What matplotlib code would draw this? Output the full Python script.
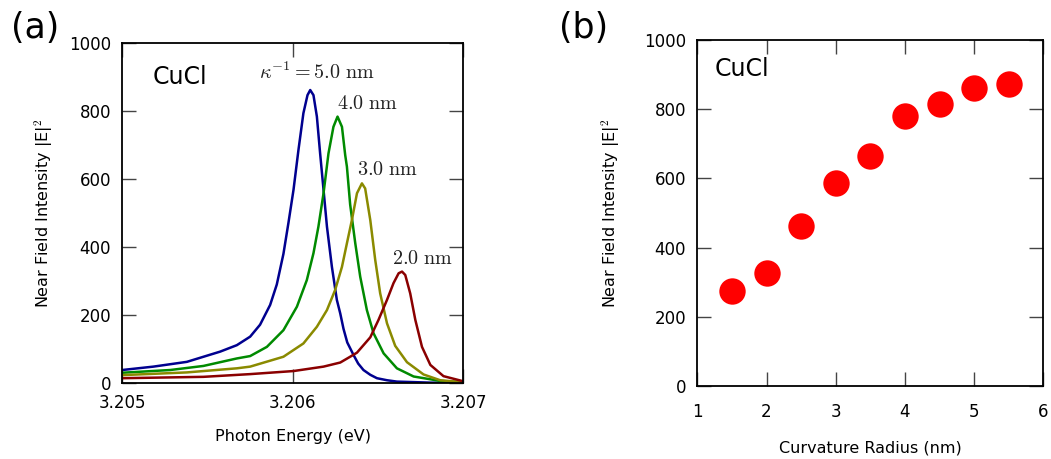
import matplotlib
matplotlib.use("Agg")
import matplotlib.pyplot as plt

plt.rcParams['font.family'] = ['DejaVu Sans']
plt.rcParams['mathtext.fontset'] = 'cm'

# ---- Panel (a): near-field spectra for different curvature radii ----
e_blue = [3.205000, 3.205184, 3.205380, 3.205575, 3.205673, 3.205751, 3.205809,
          3.205868, 3.205907, 3.205946, 3.205975, 3.206005, 3.206034, 3.206063,
          3.206087, 3.206103, 3.206122, 3.206142, 3.206161, 3.206181, 3.206201,
          3.206230, 3.206259, 3.206279, 3.206298, 3.206320, 3.206357, 3.206384,
          3.206415, 3.206455, 3.206494, 3.206553, 3.206611, 3.206807, 3.207000]
i_blue = [39, 49, 63, 93, 112, 137, 172,
          230, 290, 380, 470, 568, 685, 793,
          846, 861, 846, 783, 675, 568, 460,
          342, 245, 205, 160, 120, 83, 58,
          39, 25, 15, 9, 5, 2, 1]

e_green = [3.205000, 3.205282, 3.205477, 3.205673, 3.205751, 3.205849, 3.205946,
           3.206025, 3.206083, 3.206122, 3.206151, 3.206181, 3.206210, 3.206239,
           3.206263, 3.206289, 3.206308, 3.206318, 3.206337, 3.206367, 3.206396,
           3.206435, 3.206474, 3.206533, 3.206611, 3.206709, 3.206865, 3.207000]
i_green = [31, 39, 51, 73, 80, 107, 156,
           225, 303, 382, 460, 558, 675, 753,
           783, 753, 670, 636, 525, 411, 313,
           215, 147, 88, 44, 20, 7, 3]

e_olive = [3.205000, 3.205380, 3.205673, 3.205751, 3.205946, 3.206063, 3.206142,
           3.206201, 3.206249, 3.206289, 3.206318, 3.206347, 3.206377, 3.206406,
           3.206425, 3.206455, 3.206484, 3.206513, 3.206553, 3.206601, 3.206670,
           3.206767, 3.206865, 3.207000]
i_olive = [24, 32, 44, 49, 78, 117, 166,
           215, 274, 342, 411, 479, 558, 587,
           572, 479, 362, 264, 176, 110, 62,
           26, 9, 3]

e_red = [3.205000, 3.205477, 3.205751, 3.206005, 3.206181, 3.206279, 3.206337,
         3.206377, 3.206455, 3.206503, 3.206553, 3.206591, 3.206621, 3.206641,
         3.206660, 3.206689, 3.206719, 3.206758, 3.206807, 3.206884, 3.207000]
i_red = [15, 19, 27, 36, 49, 61, 78,
         90, 135, 186, 245, 294, 323, 328,
         318, 264, 186, 107, 54, 21, 6]

curve_labels = [r'$\kappa^{-1}=5.0\ \mathrm{nm}$', r'$4.0\ \mathrm{nm}$',
                r'$3.0\ \mathrm{nm}$', r'$2.0\ \mathrm{nm}$']
label_x = [3.20580, 3.20626, 3.20638, 3.20658]
label_y = [893, 805, 611, 350]

# ---- Panel (b): peak intensity vs curvature radius ----
radius = [1.5, 2.0, 2.5, 3.0, 3.5, 4.0, 4.5, 5.0, 5.5]
peak_intensity = [275, 328, 462, 587, 665, 780, 815, 860, 872]

fig = plt.figure(figsize=(10.51, 4.59), dpi=100)
ax1 = fig.add_axes([0.1161, 0.1649, 0.3247, 0.7421])
ax2 = fig.add_axes([0.6635, 0.1590, 0.3292, 0.7538])

colors = ['#00008f', '#008a00', '#8a8a00', '#8a0000']
series = [(e_blue, i_blue), (e_green, i_green), (e_olive, i_olive), (e_red, i_red)]
for (e, i), c in zip(series, colors):
    ax1.plot(e, i, color=c, lw=1.8, solid_joinstyle='round')

for t, x, y in zip(curve_labels, label_x, label_y):
    ax1.text(x, y, t, fontsize=14.5, ha='left', va='baseline', color='#222222')

ax1.set_xlim(3.205, 3.207)
ax1.set_ylim(0, 1000)
ax1.set_xticks([3.205, 3.206, 3.207])
ax1.set_xticklabels(['3.205', '3.206', '3.207'])
ax1.set_yticks([0, 200, 400, 600, 800, 1000])
ax1.set_xlabel('Photon Energy (eV)', fontsize=11.5, labelpad=12)
ax1.set_ylabel(r'Near Field Intensity |E|$^2$', fontsize=11.5, labelpad=10)
ax1.text(0.09, 0.935, 'CuCl', transform=ax1.transAxes, fontsize=17, va='top', ha='left')

ax2.plot(radius, peak_intensity, 'o', color='#ff0000', markersize=19, markeredgewidth=0)
ax2.set_xlim(1, 6)
ax2.set_ylim(0, 1000)
ax2.set_xticks([1, 2, 3, 4, 5, 6])
ax2.set_yticks([0, 200, 400, 600, 800, 1000])
ax2.set_xlabel('Curvature Radius (nm)', fontsize=11.5, labelpad=14)
ax2.set_ylabel(r'Near Field Intensity |E|$^2$', fontsize=11.5, labelpad=16)
ax2.text(0.05, 0.95, 'CuCl', transform=ax2.transAxes, fontsize=17, va='top', ha='left')

for ax in (ax1, ax2):
    ax.tick_params(direction='in', length=10, width=1, top=True, right=True,
                   labelsize=12, pad=8, color='#444444')
    for s in ax.spines.values():
        s.set_linewidth(1.3)
ax2.tick_params(axis='x', pad=12)

fig.text(0.010, 0.902, '(a)', fontsize=25, ha='left', va='bottom')
fig.text(0.532, 0.902, '(b)', fontsize=25, ha='left', va='bottom')

fig.savefig('out.png', dpi=100)
